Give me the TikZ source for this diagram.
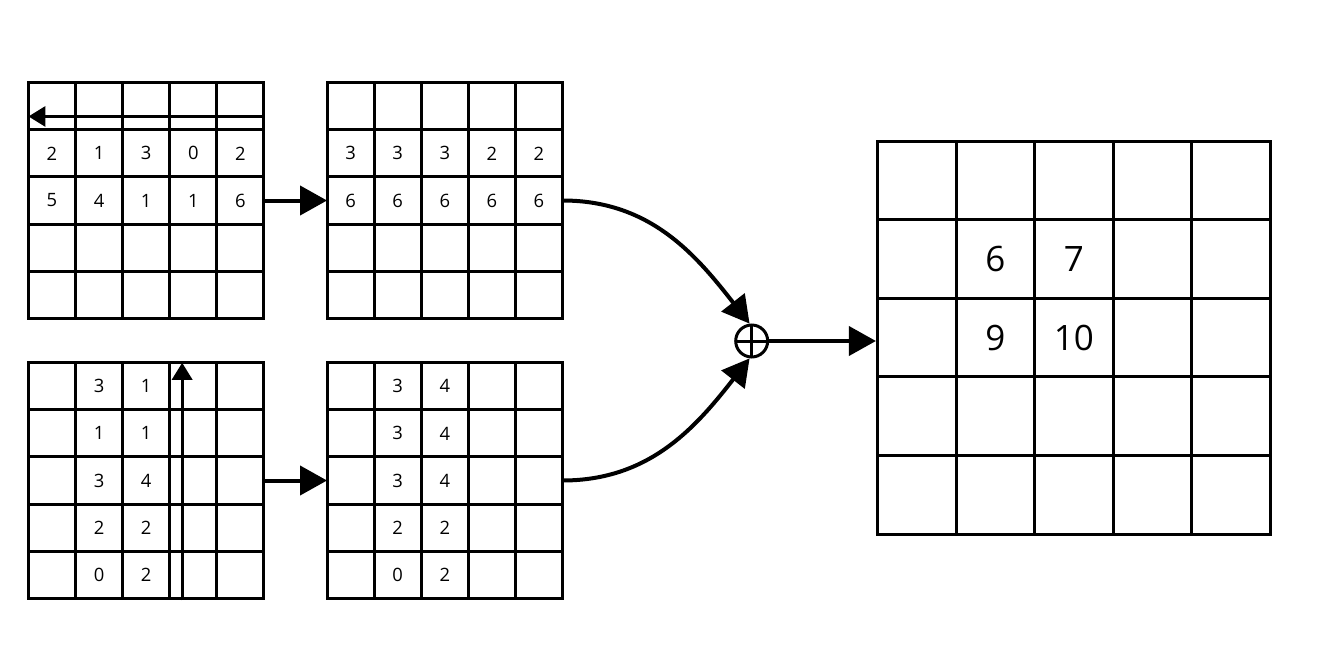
\documentclass[tikz,border=0pt]{standalone}
\usepackage{fontspec}
\setmainfont{Open Sans}
\usetikzlibrary{matrix,arrows.meta}

\begin{document}
\begin{tikzpicture}[
  x=0.5pt, y=-0.5pt,
  cell/.style={draw=black, line width=1.5pt, anchor=center, inner sep=0pt, outer sep=0pt, minimum size=23.55pt, font=\fontsize{9.2}{10}\selectfont},
  bigcell/.style={draw=black, line width=1.5pt, anchor=center, inner sep=0pt, outer sep=0pt, minimum size=39.3pt, font=\fontsize{17.5}{20}\selectfont},
  grid/.style={matrix of nodes, nodes in empty cells, inner sep=0pt, outer sep=0pt, column sep=-1.5pt, row sep=-1.5pt},
  sum/.style={circle, draw=black, line width=1.5pt, inner sep=0pt, minimum size=16pt,
    path picture={\draw[line width=1.5pt] (path picture bounding box.north) -- (path picture bounding box.south)
      (path picture bounding box.west) -- (path picture bounding box.east);}},
  arr/.style={line width=2pt, -{Triangle[length=13.5pt,width=14.5pt]}},
  scan/.style={line width=1.6pt, -{Triangle[length=8.5pt,width=10pt]}}
]
  \useasboundingbox (0,0) rectangle (1328,664);

  % Rejillas de entrada (barrido horizontal y vertical)
  \matrix (tl) [grid, nodes={cell}] at (146.2,200.5) {
      &   &   &   &   \\
    2 & 1 & 3 & 0 & 2 \\
    5 & 4 & 1 & 1 & 6 \\
      &   &   &   &   \\
      &   &   &   &   \\
  };
  \matrix (bl) [grid, nodes={cell}] at (146.2,480.5) {
      & 3 & 1 &   &   \\
      & 1 & 1 &   &   \\
      & 3 & 4 &   &   \\
      & 2 & 2 &   &   \\
      & 0 & 2 &   &   \\
  };

  % Rejillas tras el maximo acumulado
  \matrix (tm) [grid, nodes={cell}] at (444.8,200.5) {
      &   &   &   &   \\
    3 & 3 & 3 & 2 & 2 \\
    6 & 6 & 6 & 6 & 6 \\
      &   &   &   &   \\
      &   &   &   &   \\
  };
  \matrix (bm) [grid, nodes={cell}] at (444.8,480.5) {
      & 3 & 4 &   &   \\
      & 3 & 4 &   &   \\
      & 3 & 4 &   &   \\
      & 2 & 2 &   &   \\
      & 0 & 2 &   &   \\
  };

  % Suma y rejilla de salida
  \node[sum] (sum) at (751.7,341) {};
  \matrix (big) [grid, nodes={bigcell}] at (1073.9,337.5) {
      &   &    &   &   \\
      & 6 & 7  &   &   \\
      & 9 & 10 &   &   \\
      &   &    &   &   \\
      &   &    &   &   \\
  };

  % Direcciones de barrido
  \coordinate (hs) at ([yshift=6.7pt]tl-1-5.south east);
  \coordinate (he) at ([yshift=6.7pt]tl-1-1.south west);
  \draw[scan] (hs) -- (he);
  \coordinate (vs) at ([xshift=6.2pt,yshift=-1pt]bl-5-4.south west);
  \coordinate (ve) at ([xshift=6.2pt]bl-1-4.north west);
  \draw[scan] (vs) -- (ve);

  % Conexiones
  \draw[arr] (tl-3-5.east) -- (tm-3-1.west);
  \draw[arr] (bl-3-5.east) -- (bm-3-1.west);
  \draw[arr] (tm-3-5.east) to[out=0, in=128] (sum.97);
  \draw[arr] (bm-3-5.east) to[out=0, in=232] (sum.263);
  \draw[arr] (sum.east) -- (sum.east -| big.west);

\end{tikzpicture}
\end{document}
